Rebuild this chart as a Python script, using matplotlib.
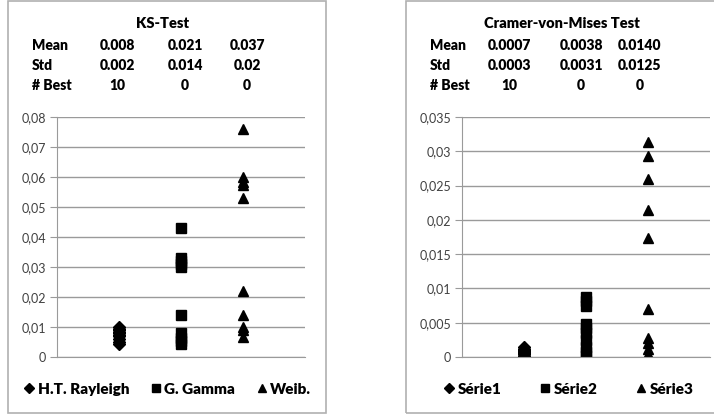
import matplotlib
matplotlib.use("Agg")
import matplotlib.pyplot as plt
from matplotlib.patches import Rectangle
from matplotlib.ticker import FuncFormatter, MultipleLocator

plt.rcParams['font.family'] = ['Lato', 'DejaVu Sans']

W, H = 714, 417

# ---- data: KS-Test ----
ks_rayleigh = [0.0100, 0.0095, 0.0090, 0.0085, 0.0080, 0.0075, 0.0070, 0.0060, 0.0050, 0.0042]
ks_gamma = [0.0430, 0.0330, 0.0320, 0.0310, 0.0300, 0.0140, 0.0080, 0.0065, 0.0055, 0.0045]
ks_weib = [0.0760, 0.0600, 0.0585, 0.0575, 0.0530, 0.0220, 0.0140, 0.0100, 0.0090, 0.0068]
ks_names = ['H.T. Rayleigh', 'G. Gamma', 'Weib.']
ks_mean = ['0.008', '0.021', '0.037']
ks_std = ['0.002', '0.014', '0.02']
ks_best = ['10', '0', '0']

# ---- data: Cramer-von-Mises ----
cvm_s1 = [0.0015, 0.0012, 0.0010, 0.0009, 0.0008, 0.0007, 0.0006, 0.0005, 0.0004, 0.0002]
cvm_s2 = [0.0088, 0.0082, 0.0074, 0.0048, 0.0042, 0.0035, 0.0025, 0.0015, 0.0008, 0.0002]
cvm_s3 = [0.0313, 0.0293, 0.0260, 0.0215, 0.0173, 0.0070, 0.0028, 0.0020, 0.0012, 0.0005]
cvm_names = ['Série1', 'Série2', 'Série3']
cvm_mean = ['0.0007', '0.0038', '0.0140']
cvm_std = ['0.0003', '0.0031', '0.0125']
cvm_best = ['10', '0', '0']

markers = ['D', 's', '^']
msizes = [6, 7.5, 7]

fig = plt.figure(figsize=(W / 100, H / 100), dpi=100)


def fx(px):
    return px / W


def fy(py):
    return 1 - py / H


def comma(v, pos):
    if v == 0:
        return '0'
    s = ('%.3f' % v).rstrip('0')
    return s.replace('.', ',')


def panel(x0, x1, ax_left, ax_right, ymax, ystep, series, names,
          title, title_x, label_x, col_x, mean, std, best, leg_x, colsp):
    fig.patches.append(Rectangle((fx(x0), fy(413)), fx(x1 - x0), (413 - 1) / H,
                                 transform=fig.transFigure, fill=False,
                                 edgecolor='#b0b0b0', linewidth=1.2))
    ax = fig.add_axes([fx(ax_left), fy(357), fx(ax_right - ax_left), (357 - 117) / H])
    for i, vals in enumerate(series):
        ax.plot([i + 1] * len(vals), vals, linestyle='none', marker=markers[i],
                markersize=msizes[i], color='black', label=names[i])
    ax.set_xlim(0, 4)
    ax.set_ylim(0, ymax)
    ax.yaxis.set_major_locator(MultipleLocator(ystep))
    ax.yaxis.set_major_formatter(FuncFormatter(comma))
    ax.set_xticks([])
    ax.grid(axis='y', color='#9a9a9a', linewidth=1.0)
    ax.set_axisbelow(True)
    for s in ['top', 'right']:
        ax.spines[s].set_visible(False)
    ax.spines['left'].set_color('#9a9a9a')
    ax.spines['bottom'].set_color('#9a9a9a')
    ax.tick_params(axis='y', length=5, color='#9a9a9a', labelsize=9,
                   labelcolor='#404040', pad=3)

    fig.text(fx(title_x), fy(24), title, ha='center', va='center',
             fontsize=10.5, fontweight='heavy')
    rows = [('Mean', mean, 46), ('Std', std, 65), ('# Best', best, 85)]
    for lab, vals, y in rows:
        fig.text(fx(label_x), fy(y), lab, ha='left', va='center',
                 fontsize=10, fontweight='heavy')
        for cx, v in zip(col_x, vals):
            fig.text(fx(cx), fy(y), v, ha='center', va='center',
                     fontsize=10, fontweight='heavy')

    handles, labels = ax.get_legend_handles_labels()
    fig.legend(handles, labels, loc='center', ncol=3,
               bbox_to_anchor=(fx(leg_x), fy(389)), frameon=False,
               handletextpad=0.1, columnspacing=colsp, handlelength=0.9,
               markerscale=0.8, prop={'weight': 'heavy', 'size': 11})
    return ax


panel(8, 326, 57, 305, 0.08, 0.01, [ks_rayleigh, ks_gamma, ks_weib], ks_names,
      'KS-Test', 163, 32, [117, 185, 247], ks_mean, ks_std, ks_best, 167, 1.3)
panel(406, 716, 462, 710, 0.035, 0.005, [cvm_s1, cvm_s2, cvm_s3], cvm_names,
      'Cramer-von-Mises Test', 562, 430, [509, 581, 640], cvm_mean, cvm_std, cvm_best, 568, 2.4)

fig.savefig('out.png', dpi=100)
